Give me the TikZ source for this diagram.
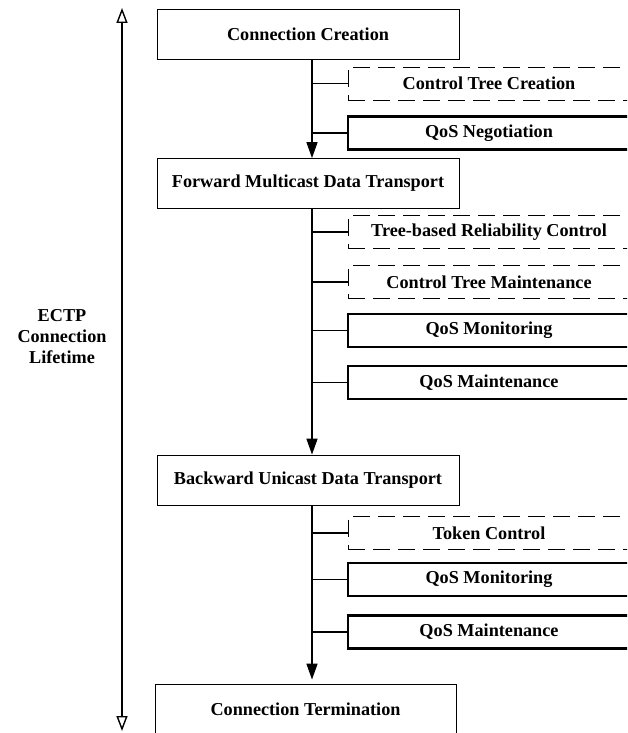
\documentclass[tikz,border=0pt]{standalone}
\usepackage{fontspec}
\setmainfont{Liberation Serif}
\usetikzlibrary{arrows.meta}
\begin{document}
\begin{tikzpicture}[x=1pt,y=-1pt,
  every node/.style={font=\fontsize{18.2}{21}\selectfont\bfseries},
  mainbox/.style={draw=black,line width=0.8pt,minimum width=302pt,minimum height=50pt,inner sep=0pt},
  dashbox/.style={draw=black,line width=0.8pt,dash pattern=on 17pt off 8pt,minimum width=282pt,minimum height=33pt,inner sep=0pt},
  thickbox/.style={draw=black,line width=2.6pt,minimum width=282pt,minimum height=33pt,inner sep=0pt},
  spine/.style={line width=1.6pt,-{Triangle[length=16pt,width=11pt]}},
  branch/.style={line width=1.6pt},
  life/.style={line width=1.4pt,{Triangle[open,length=15pt,width=11pt]}-{Triangle[open,length=15pt,width=11pt]}}
]
\useasboundingbox (0,0) rectangle (627,733);
\clip (0,0) rectangle (627,733);
% main boxes
\node[mainbox] (cc) at (308,34) {Connection Creation};
\node[mainbox] (fm) at (308,183.5) {Forward Multicast Data Transport};
\node[mainbox] (bu) at (308,480) {Backward Unicast Data Transport};
\node[mainbox,minimum width=301pt] (ct) at (305.5,709) {Connection Termination};
% side boxes
\node[dashbox] (ctc) at (489,83.5) {Control Tree Creation};
\node[thickbox] (qn) at (489,133) {QoS Negotiation};
\node[dashbox] (trc) at (489,232) {Tree-based Reliability Control};
\node[dashbox] (ctm) at (489,282) {Control Tree Maintenance};
\node[thickbox] (qm1) at (489,330.5) {QoS Monitoring};
\node[thickbox] (qa1) at (489,382.5) {QoS Maintenance};
\node[dashbox] (tc) at (489,533) {Token Control};
\node[thickbox] (qm2) at (489,579.5) {QoS Monitoring};
\node[thickbox] (qa2) at (489,632) {QoS Maintenance};
% spine coordinates
\coordinate (s1) at (312,0);
% spine arrows
\draw[spine] (cc.south -| s1) -- (fm.north -| s1);
\draw[spine] (fm.south -| s1) -- (bu.north -| s1);
\draw[spine] (bu.south -| s1) -- ([yshift=4pt]ct.north -| s1);
% branches
\foreach \b in {ctc,qn,trc,ctm,qm1,qa1,tc,qm2,qa2}
  \draw[branch] (\b.west -| s1) -- (\b.west);
% lifetime arrow
\coordinate (ltop) at (122,8);
\coordinate (lbot) at (122,731);
\draw[life] (ltop) -- (lbot);
\node[align=center] (lab) at (62,337) {ECTP\\Connection\\Lifetime};
\end{tikzpicture}
\end{document}
